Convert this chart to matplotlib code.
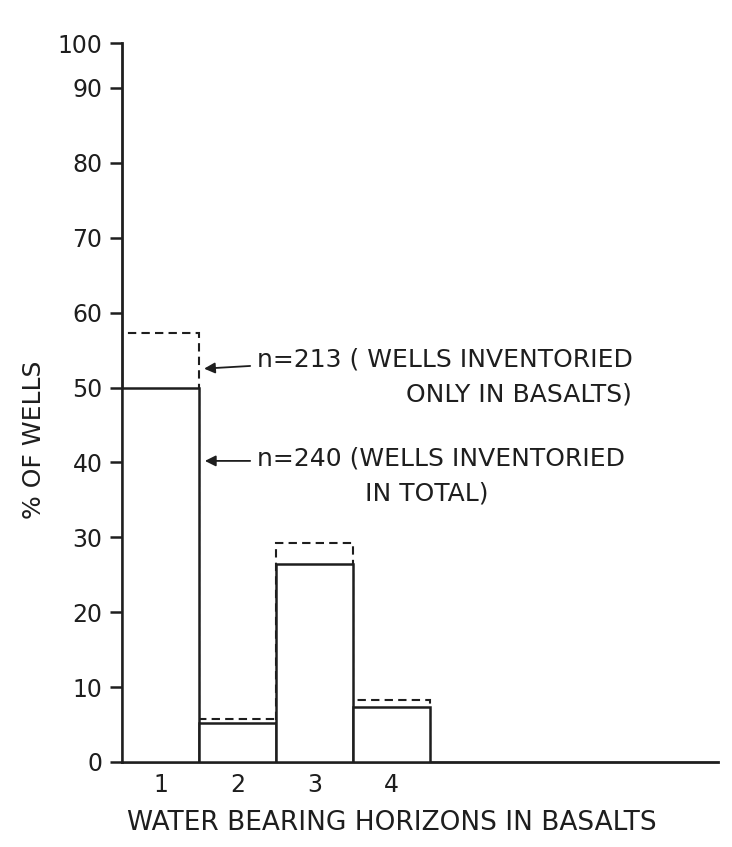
import matplotlib
matplotlib.use("Agg")
import matplotlib.pyplot as plt

categories = [1, 2, 3, 4]
total_240 = [50.0, 5.2, 26.4, 7.4]        # solid bars, n=240
basalts_213 = [57.3, 5.8, 29.2, 8.3]      # dashed bars, n=213
ytick_vals = [0, 10, 20, 30, 40, 50, 60, 70, 80, 90, 96]
ytick_labels = ["0", "10", "20", "30", "40", "50", "60", "70", "80", "90", "100"]
xtick_labels = ["1", "2", "3", "4"]

INK = "#1e1e1e"
plt.rcParams["font.family"] = ["DejaVu Sans"]

fig = plt.figure(figsize=(7.32, 8.47), dpi=100)
ax = fig.add_axes([0.1667, 0.1004, 0.8143, 0.8488])

ax.bar(categories, basalts_213, width=1.0, fill=False, edgecolor=INK,
       linestyle=(0, (4, 2.5)), linewidth=1.5, zorder=2)
ax.bar(categories, total_240, width=1.0, facecolor="white", edgecolor=INK,
       linewidth=1.8, zorder=3)

ax.set_xlim(0.5, 8.24)
ax.set_ylim(0, 96)

ax.spines["top"].set_visible(False)
ax.spines["right"].set_visible(False)
for s in ["left", "bottom"]:
    ax.spines[s].set_linewidth(2.0)
    ax.spines[s].set_color(INK)

ax.set_yticks(ytick_vals)
ax.set_yticklabels(ytick_labels, fontsize=17, color=INK)
ax.tick_params(axis="y", length=9, width=1.8, color=INK, pad=5)
ax.set_xticks(categories)
ax.set_xticklabels(xtick_labels, fontsize=17, color=INK)
ax.tick_params(axis="x", length=0, pad=8)

ax.set_ylabel("% OF WELLS", fontsize=18, color=INK)
ax.yaxis.set_label_coords(-0.128, 0.448)
ax.set_xlabel("WATER BEARING HORIZONS IN BASALTS", fontsize=19, color=INK)
ax.xaxis.set_label_coords(0.453, -0.067)

arrow = dict(arrowstyle="-|>", color=INK, lw=1.3, mutation_scale=16)
ax.annotate("", xy=(1.53, 52.5), xytext=(2.2, 52.9), arrowprops=arrow, zorder=4)
ax.annotate("", xy=(1.54, 40.2), xytext=(2.2, 40.2), arrowprops=arrow, zorder=4)

ax.text(2.25, 53.8, "n=213 ( WELLS INVENTORIED", fontsize=18, color=INK, va="center", ha="left")
ax.text(7.12, 49.1, "ONLY IN BASALTS)", fontsize=18, color=INK, va="center", ha="right")
ax.text(2.25, 40.5, "n=240 (WELLS INVENTORIED", fontsize=18, color=INK, va="center", ha="left")
ax.text(3.66, 35.8, "IN TOTAL)", fontsize=18, color=INK, va="center", ha="left")

fig.savefig("out.png", dpi=100, facecolor="white")
